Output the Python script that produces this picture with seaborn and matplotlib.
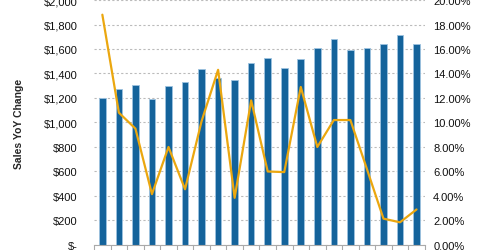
import matplotlib
matplotlib.use("Agg")
import matplotlib.pyplot as plt
import seaborn as sns
import pandas as pd
import numpy as np
from matplotlib.ticker import FuncFormatter, FixedLocator

sns.set_theme(style="white")
plt.rcParams['font.family'] = ['Liberation Sans', 'DejaVu Sans']

periods = [f"P{i+1}" for i in range(20)]
sales = [1200, 1275, 1305, 1192, 1295, 1328, 1436, 1360, 1345, 1488,
         1526, 1441, 1520, 1607, 1680, 1590, 1612, 1642, 1715, 1637]
yoy_change = [18.8, 10.8, 9.5, 4.15, 8.0, 4.55, 10.1, 14.3, 3.85, 11.8,
              6.0, 5.95, 12.9, 8.0, 10.2, 10.2, 6.2, 2.15, 1.85, 2.9]

df = pd.DataFrame({"period": periods, "sales": sales, "yoy": yoy_change,
                   "idx": np.arange(len(periods))})

fig = plt.figure(figsize=(4.8, 2.51), dpi=100)
ax = fig.add_axes([0.196, 0.02, 0.689, 0.976])

sns.barplot(data=df, x="period", y="sales", ax=ax, color="#14639B",
            width=0.4, saturation=1, edgecolor="#9DC3E0", linewidth=0.6, zorder=2)
ax.set_xlim(-0.5, len(periods) - 0.5)
ax.set_ylim(0, 2000)
ax.set_yticks(np.arange(0, 2001, 200))
ax.yaxis.set_major_formatter(FuncFormatter(lambda v, p: "$-" if v == 0 else f"${v:,.0f}"))
ax.xaxis.set_major_locator(FixedLocator(np.arange(-0.5, len(periods), 1.0)))
ax.set_xticklabels([])
ax.set_xlabel("")
ax.set_ylabel("Sales YoY Change", fontsize=7.5, fontweight="bold", labelpad=14)
ax.grid(axis="y", color="#BBBBBB", linestyle=(0, (2, 2)), linewidth=0.8, zorder=0)
ax.set_axisbelow(True)
for s in ["left", "right", "top"]:
    ax.spines[s].set_visible(False)
ax.spines["bottom"].set_color("#AAAAAA")
ax.spines["bottom"].set_linewidth(0.8)
ax.tick_params(axis="x", which="major", bottom=True, length=4, color="#AAAAAA", width=0.8)
ax.tick_params(axis="y", labelsize=8, length=0, pad=12, labelcolor="#111111")

ax2 = ax.twinx()
sns.lineplot(data=df, x="idx", y="yoy", ax=ax2, color="#EBA70F", linewidth=1.6, zorder=3)
ax2.set_ylim(0, 20)
ax2.set_xlim(-0.5, len(periods) - 0.5)
ax2.set_yticks(np.arange(0, 20.1, 2))
ax2.yaxis.set_major_formatter(FuncFormatter(lambda v, p: f"{v:.2f}%"))
ax2.set_ylabel("")
ax2.set_xlabel("")
for s in ["left", "right", "top", "bottom"]:
    ax2.spines[s].set_visible(False)
ax2.tick_params(axis="y", labelsize=8, length=0, pad=6, labelcolor="#111111")
ax2.grid(False)

fig.savefig("out.png", dpi=100)
